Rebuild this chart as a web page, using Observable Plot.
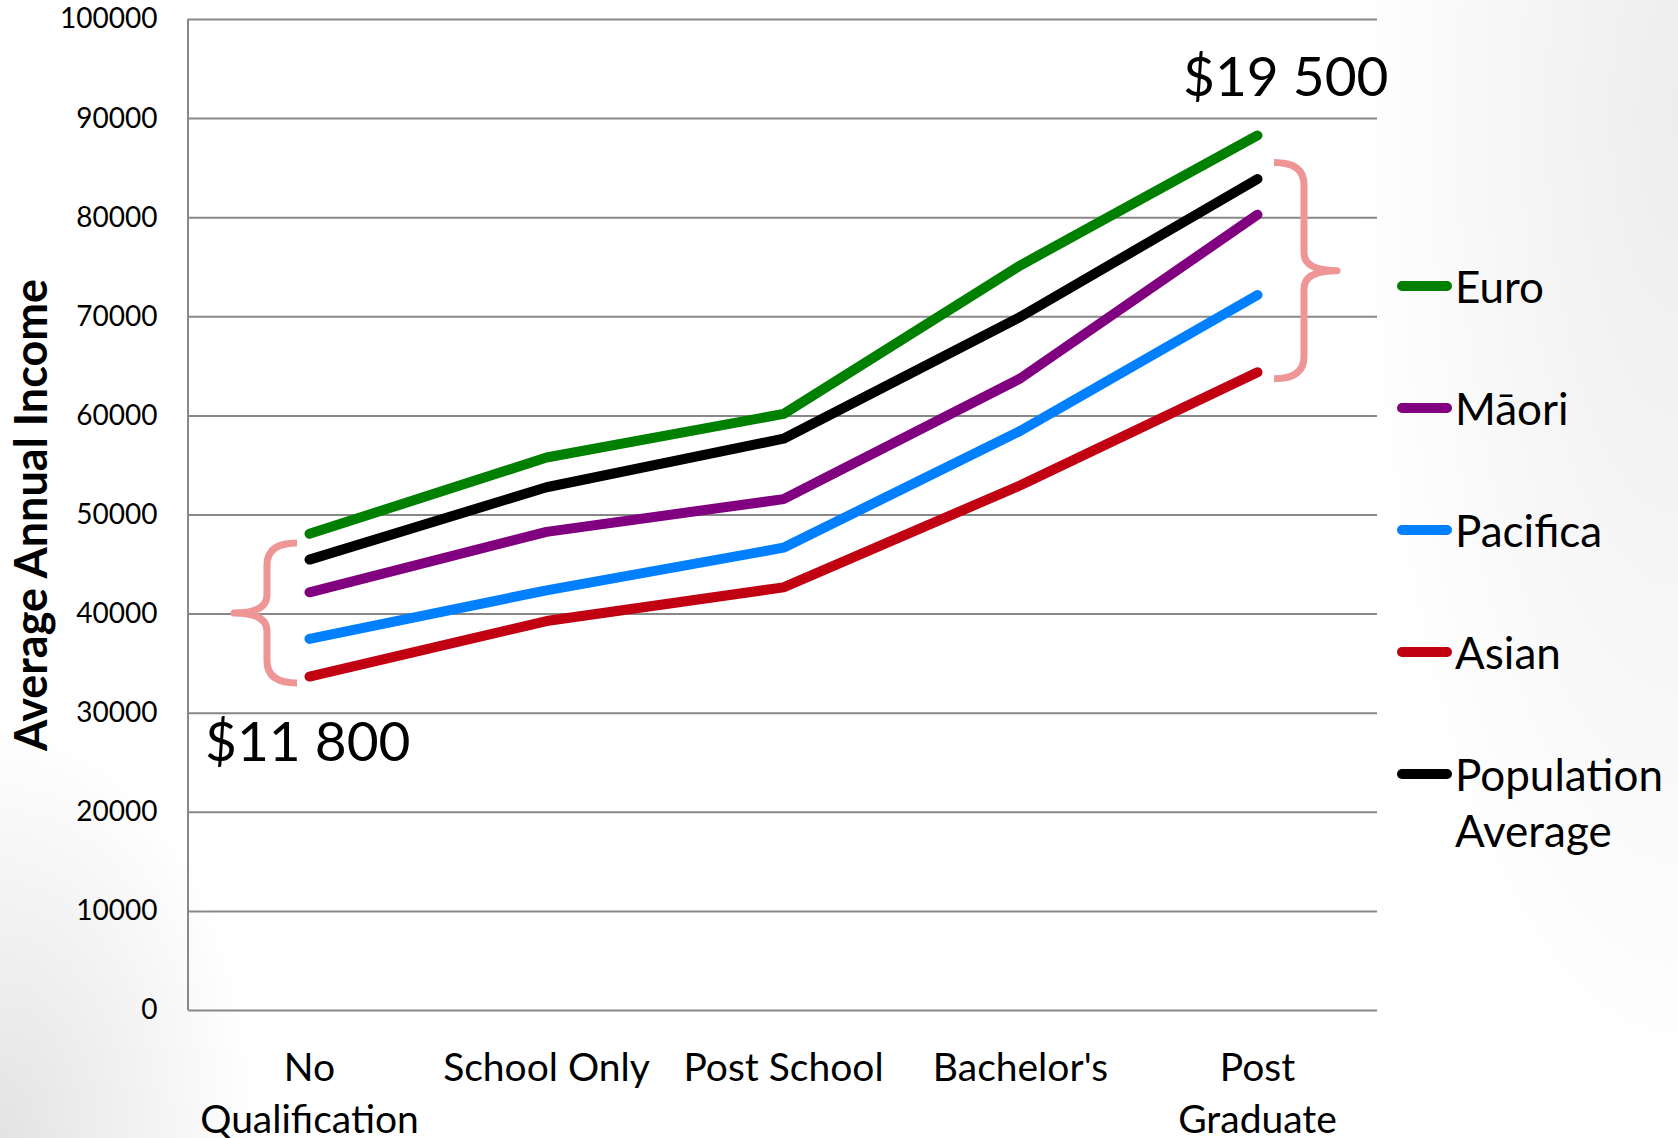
<!DOCTYPE html>
<html>
<head>
<meta charset="utf-8">
<script src="https://cdn.jsdelivr.net/npm/d3@7"></script>
<script src="https://cdn.jsdelivr.net/npm/@observablehq/plot@0.6"></script>
<style>
  html, body { margin: 0; padding: 0; }
  body { width: 1678px; height: 1138px; position: relative; overflow: hidden; background: #fff; font-family: Lato, "Open Sans", sans-serif; }
  #bg { position: absolute; inset: 0;
    background:
      radial-gradient(ellipse 260px 420px at 0% 100%, rgba(0,0,0,0.11) 0%, rgba(0,0,0,0) 100%),
      radial-gradient(ellipse 330px 1000px at 100% 10%, rgba(0,0,0,0.07) 0%, rgba(0,0,0,0) 100%),
      #ffffff; }
  #chart { position: absolute; left: 0; top: 0; }
  #chart svg g[aria-label="y-axis label"] { font-weight: bold; font-size: 45px; }
  #legend { position: absolute; left: 0; top: 0; width: 1678px; height: 1138px; pointer-events: none; }
  .row { position: absolute; display: flex; align-items: flex-start; }
  .swatch { width: 55px; height: 10px; border-radius: 5px; margin-top: 23px; }
  .lab { font-size: 44px; line-height: 56px; color: #000; width: 225px; margin-left: 3px; }
</style>
</head>
<body>
<div id="bg"></div>
<div id="chart"></div>
<div id="legend"></div>
<script>
// ---- data ----
const categories = ["No Qualification", "School Only", "Post School", "Bachelor's", "Post Graduate"];
const categoryLabels = ["No\nQualification", "School Only", "Post School", "Bachelor's", "Post\nGraduate"];
const seriesNames = ["Euro", "Māori", "Pacifica", "Asian", "Population Average"];
const seriesColors = ["#008000", "#800080", "#0080FF", "#C10012", "#000000"];
const euro       = [48100, 55800, 60200, 75200, 88300];
const maori      = [42200, 48300, 51600, 63800, 80300];
const pacifica   = [37500, 42400, 46700, 58500, 72200];
const asian      = [33700, 39300, 42700, 53000, 64400];
const population = [45500, 52800, 57700, 70000, 83900];
const yTicks = [0, 10000, 20000, 30000, 40000, 50000, 60000, 70000, 80000, 90000, 100000];
const gapCategories = ["No Qualification", "Post Graduate"];
const gapLabels = ["$11 800", "$19 500"];
const yTitle = "Average Annual Income";

const seriesValues = [euro, maori, pacifica, asian, population];
const data = seriesNames.flatMap((s, i) => categories.map((c, j) => ({series: s, category: c, value: seriesValues[i][j]})));

const braceColor = "#EE9696";
const gridColor = "#888888";

function bracePath(xe, y1, y2, dir) {
  const xm = xe - dir * 30, xt = xm - dir * 33, ym = (y1 + y2) / 2, r1 = 22, r2 = 18;
  return `M${xe},${y1}Q${xm},${y1} ${xm},${y1 + r1}L${xm},${ym - r2}Q${xm},${ym} ${xt},${ym}Q${xm},${ym} ${xm},${ym + r2}L${xm},${y2 - r1}Q${xm},${y2} ${xe},${y2}`;
}

const annotations = (index, scales, values, dimensions) => {
  const g = d3.create("svg:g");
  const {x, y} = scales;
  const {marginLeft} = dimensions;
  // left axis line
  g.append("line").attr("x1", marginLeft).attr("x2", marginLeft)
    .attr("y1", y(yTicks[yTicks.length - 1])).attr("y2", y(0))
    .attr("stroke", gridColor).attr("stroke-width", 2);
  gapCategories.forEach((cat, k) => {
    const j = categories.indexOf(cat);
    const vals = seriesValues.map(v => v[j]);
    const y1 = y(d3.max(vals.filter((v, i) => seriesNames[i] !== "Euro"))) - 16;
    const y2 = y(d3.min(vals)) + 7;
    const left = k === 0;
    const xe = x(cat) + (left ? -12 : 17);
    g.append("path").attr("d", bracePath(xe, y1, y2, left ? 1 : -1))
      .attr("fill", "none").attr("stroke", braceColor).attr("stroke-width", 7)
      .attr("stroke-linecap", "butt").attr("stroke-linejoin", "round");
    g.append("text").text(gapLabels[k])
      .attr("x", x(cat) + (left ? -104 : -74))
      .attr("y", left ? y2 + 78 : y1 - 67)
      .attr("text-anchor", "start")
      .attr("font-size", 55).attr("fill", "#000").attr("font-family", "Lato");
  });
  return g.node();
};

const chart = Plot.plot({
  width: 1678,
  height: 1138,
  marginLeft: 188,
  marginRight: 301,
  marginTop: 19,
  marginBottom: 128,
  style: {fontFamily: "Lato", fontSize: "28px", background: "transparent", color: "#000", overflow: "visible"},
  x: {type: "point", domain: categories, padding: 0.5},
  y: {domain: [0, 100000]},
  color: {domain: seriesNames, range: seriesColors},
  marks: [
    Plot.gridY(yTicks, {stroke: gridColor, strokeOpacity: 1, strokeWidth: 2}),
    Plot.axisY(yTicks, {tickSize: 0, tickPadding: 31, fontSize: 28, tickFormat: d3.format("d"),
      label: yTitle, labelAnchor: "center", labelOffset: 173, labelArrow: "none"}),
    Plot.axisX({tickSize: 0, tickPadding: 34, fontSize: 39, lineHeight: 1.33, label: null,
      tickFormat: d => categoryLabels[categories.indexOf(d)]}),
    annotations,
    Plot.line(data, {x: "category", y: "value", z: "series", stroke: "series",
      strokeWidth: 10, strokeLinecap: "round", strokeLinejoin: "round"})
  ]
});
document.getElementById("chart").appendChild(chart);

// legend
const legend = d3.select("#legend");
seriesNames.forEach((s, i) => {
  const row = legend.append("div").attr("class", "row")
    .style("left", "1397px").style("top", (258 + i * 122) + "px");
  row.append("div").attr("class", "swatch").style("background", seriesColors[i]);
  row.append("div").attr("class", "lab").text(s);
});
</script>
</body>
</html>
